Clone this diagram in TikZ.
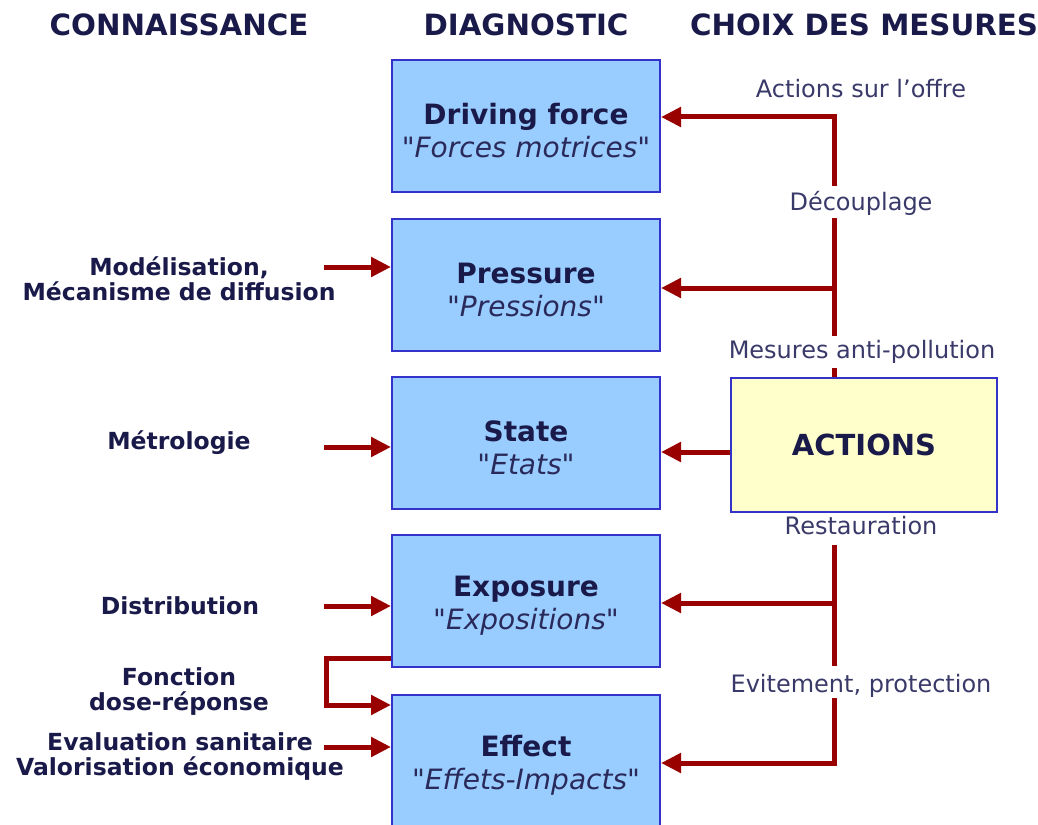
\documentclass[tikz,border=0pt]{standalone}
\usepackage{fontspec}
\setmainfont{DejaVu Sans}[Ligatures=TeXOff]
\usetikzlibrary{arrows.meta}
\definecolor{boxfill}{HTML}{99CCFF}
\definecolor{boxline}{HTML}{3333CC}
\definecolor{actfill}{HTML}{FFFFCC}
\definecolor{arrred}{HTML}{990000}
\definecolor{navy}{HTML}{1A1A4A}
\definecolor{softnavy}{HTML}{3A3A6A}
\definecolor{itnavy}{HTML}{2A2A5A}
\begin{document}
\begin{tikzpicture}[x=1pt,y=-1pt,
  diag/.style={draw=boxline, line width=2pt, fill=boxfill, minimum width=268pt,
    minimum height=132pt, inner sep=0pt},
  dtext/.style={align=center, text=navy, inner sep=0pt,
    font=\fontsize{28}{33}\selectfont},
  act/.style={draw=boxline, line width=2pt, fill=actfill, minimum width=266pt,
    minimum height=134pt, inner sep=0pt, text=navy,
    font=\fontsize{29}{34}\selectfont\bfseries},
  conn/.style={draw=arrred, line width=5pt, line join=miter,
    -{Triangle[length=20pt,width=19pt]}},
  link/.style={draw=arrred, line width=5pt},
  hdr/.style={font=\fontsize{29.3}{34}\selectfont\bfseries, text=navy, inner sep=0pt},
  know/.style={font=\fontsize{23.5}{25}\selectfont\bfseries, text=navy, align=center, inner sep=0pt},
  meas/.style={font=\fontsize{24}{28}\selectfont, text=softnavy, inner sep=0pt}
]
\useasboundingbox (0,0) rectangle (1038,824);
\fill[white] (0,0) rectangle (1038,824);

% headers
\node[hdr] (h1) at (179,25) {CONNAISSANCE};
\node[hdr] (h2) at (526,25) {DIAGNOSTIC};
\node[hdr] (h3) at (864,25) {CHOIX DES MESURES};

% diagnostic boxes
\node[diag] (DF) at (526,126) {};
\node[diag] (PR) at (526,284.5) {};
\node[diag] (ST) at (526,443) {};
\node[diag] (EX) at (526,601) {};
\node[diag, minimum height=136pt] (EF) at (526,763) {};
\node[dtext] (DFt) at (526,131) {\textbf{Driving force}\\\textcolor{itnavy}{\itshape "Forces motrices"}};
\node[dtext] (PRt) at (526,289.5) {\textbf{Pressure}\\\textcolor{itnavy}{\itshape "Pressions"}};
\node[dtext] (STt) at (526,448) {\textbf{State}\\\textcolor{itnavy}{\itshape "Etats"}};
\node[dtext] (EXt) at (526,606) {\textbf{Exposure}\\\textcolor{itnavy}{\itshape "Expositions"}};
\node[dtext] (EFt) at (526,765) {\textbf{Effect}\\\textcolor{itnavy}{\itshape "Effets-Impacts"}};

% actions box
\node[act] (AC) at (864,445) {ACTIONS};

% knowledge labels
\node[know] (k1) at (179,279) {Modélisation,\\Mécanisme de diffusion};
\node[know] (k2) at (179,443) {Métrologie};
\node[know] (k3) at (180,606) {Distribution};
\node[know] (k4) at (179,692) {Fonction\\dose-réponse};
\node[know] (k5) at (180,757) {Evaluation sanitaire\\Valorisation économique};

% measure labels
\node[meas] (m1) at (861,89) {Actions sur l’offre};
\node[meas] (m2) at (861,203) {Découplage};
\node[meas] (m3) at (862,352) {Mesures anti-pollution};
\node[meas] (m4) at (861,526) {Restauration};
\node[meas] (m5) at (861,686) {Evitement, protection};

% right-hand junctions
\coordinate (vA) at (834,117);
\coordinate (vB) at (834,186);
\coordinate (vC) at (834,218);
\coordinate (vP) at (834,288);
\coordinate (vD) at (834,336);
\coordinate (vE) at (834,368);
\coordinate (sA) at (731,452);
\coordinate (vF) at (834,545);
\coordinate (vX) at (834,603);
\coordinate (vG) at (834,666);
\coordinate (vH) at (834,698);
\coordinate (vI) at (834,763);

\draw[conn] (vB) -- (vA) -- (DF.east |- vA);
\draw[link] (vC) -- (vD);
\draw[conn] (vP) -- (PR.east |- vP);
\draw[link] (vE) -- (AC.north -| vE);
\draw[conn] (AC.west |- sA) -- (ST.east |- sA);
\draw[link] (vF) -- (vG);
\draw[conn] (vX) -- (EX.east |- vX);
\draw[conn] (vH) -- (vI) -- (EF.east |- vI);

% left-hand arrows
\coordinate (pL) at (324,267);
\coordinate (sL) at (324,447);
\coordinate (xL) at (324,606);
\coordinate (fL) at (324,747);
\coordinate (b1) at (326,658);
\coordinate (b2) at (326,705);
\draw[conn] (pL) -- (PR.west |- pL);
\draw[conn] (sL) -- (ST.west |- sL);
\draw[conn] (xL) -- (EX.west |- xL);
\draw[conn] (fL) -- (EF.west |- fL);
\draw[conn] (EX.west |- b1) -- (b1) -- (b2) -- (EF.west |- b2);
\end{tikzpicture}
\end{document}
